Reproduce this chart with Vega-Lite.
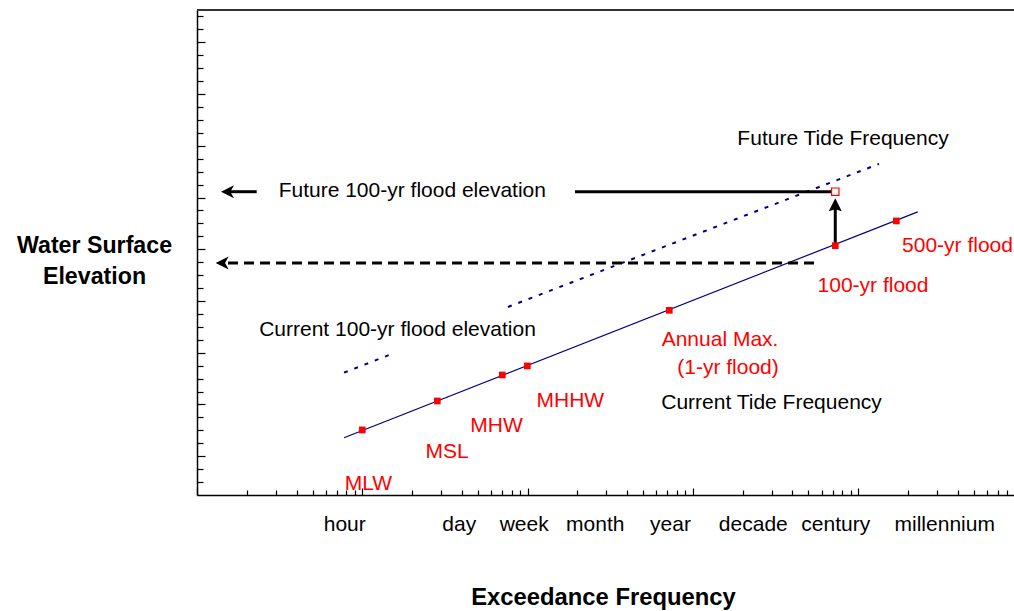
{
  "$schema": "https://vega.github.io/schema/vega-lite/v6.json",
  "width": 817,
  "height": 485,
  "autosize": {"type": "none"},
  "padding": {"left": 197, "top": 10, "right": 0, "bottom": 116},
  "background": "white",
  "config": {"font": "Liberation Sans", "view": {"stroke": null}},
  "datasets": {
    "tide": [{"x": 7.75, "y": 4.43}, {"x": 22909, "y": 21.89}],
    "future": [
      {"seg": "a", "x": 7.75, "y": 9.46}, {"seg": "a", "x": 15.06, "y": 10.9},
      {"seg": "b", "x": 76.1, "y": 14.54}, {"seg": "b", "x": 13360, "y": 25.6}
    ],
    "solid": [
      {"seg": "future", "x": 193.6, "y": 23.45}, {"seg": "future", "x": 7200, "y": 23.45},
      {"seg": "shaft", "x": 1.54, "y": 23.45}, {"seg": "shaft", "x": 2.297, "y": 23.45},
      {"seg": "up", "x": 7265, "y": 19.1}, {"seg": "up", "x": 7265, "y": 22.4}
    ],
    "dashed": [{"x": 1.54, "y": 17.94}, {"x": 5655, "y": 17.94}],
    "leftheads": [{"x": 1.397, "y": 23.45}, {"x": 1.297, "y": 17.94}],
    "upheads": [{"x": 7265, "y": 22.95}],
    "events": [
      {"name": "MLW", "x": 10.0, "y": 5.03},
      {"name": "MSL", "x": 28.43, "y": 7.27},
      {"name": "MHW", "x": 70.3, "y": 9.28},
      {"name": "MHHW", "x": 99.6, "y": 9.98},
      {"name": "Annual Max", "x": 719.5, "y": 14.28},
      {"name": "100-yr", "x": 7265, "y": 19.28},
      {"name": "500-yr", "x": 17005, "y": 21.19}
    ],
    "futurept": [{"x": 7265, "y": 23.45}],
    "border": [{"x": 1, "x2": 87600, "y": 37.5}],
    "labels": [
      {"text": "MLW", "kind": "event", "x": 10.89, "y": 0.387},
      {"text": "MSL", "kind": "event", "x": 32.63, "y": 2.838},
      {"text": "MHW", "kind": "event", "x": 64.85, "y": 4.849},
      {"text": "MHHW", "kind": "event", "x": 181.3, "y": 6.829},
      {"text": "Annual Max.", "kind": "event", "x": 1459, "y": 11.52},
      {"text": "(1-yr flood)", "kind": "event", "x": 1631, "y": 9.36},
      {"text": "100-yr flood", "kind": "event", "x": 12290, "y": 15.72},
      {"text": "500-yr flood", "kind": "event", "x": 39870, "y": 18.79},
      {"text": "Current Tide Frequency", "kind": "note", "x": 2989, "y": 6.65},
      {"text": "Current 100-yr flood elevation", "kind": "note", "x": 16.33, "y": 12.3},
      {"text": "Future 100-yr flood elevation", "kind": "note", "x": 20.07, "y": 23.02},
      {"text": "Future Tide Frequency", "kind": "note", "x": 8093, "y": 27.07}
    ]
  },
  "encoding": {
    "x": {
      "field": "x", "type": "quantitative",
      "scale": {"type": "log", "domain": [1, 87600], "nice": false, "zero": false},
      "axis": {
        "values": [1,2,3,4,5,6,7,8,9,10,20,30,40,50,60,70,80,90,100,200,300,400,500,600,700,800,900,1000,2000,3000,4000,5000,6000,7000,8000,9000,10000,20000,30000,40000,50000,60000,70000,80000,7.774,38.31,94.7,255,727,2304,7260,33140],
        "labelExpr": "datum.value == 7.774 ? 'hour' : datum.value == 38.31 ? 'day' : datum.value == 94.7 ? 'week' : datum.value == 255 ? 'month' : datum.value == 727 ? 'year' : datum.value == 2304 ? 'decade' : datum.value == 7260 ? 'century' : datum.value == 33140 ? 'millennium' : ''",
        "tickSize": {"condition": {"test": "abs(log(datum.value)/LN10 - round(log(datum.value)/LN10)) < 0.0001", "value": -7}, "value": -5},
        "tickOpacity": {"condition": {"test": "indexof([7.774,38.31,94.7,255,727,2304,7260,33140], datum.value) >= 0", "value": 0}, "value": 1},
        "tickColor": "black",
        "tickWidth": 1.2,
        "domainColor": "black",
        "domainWidth": 1.5,
        "labelFontSize": 21,
        "labelColor": "black",
        "labelBaseline": "alphabetic",
        "labelPadding": 40,
        "labelOverlap": false,
        "labelBound": false,
        "labelFlush": false,
        "grid": false,
        "title": "Exceedance Frequency",
        "titleFontSize": 23.8,
        "titleFontWeight": "bold",
        "titleColor": "black",
        "titleX": 406,
        "titleY": 109,
        "titleAlign": "center",
        "titleBaseline": "alphabetic"
      }
    },
    "y": {
      "field": "y", "type": "quantitative",
      "scale": {"domain": [0, 37.5], "nice": false, "zero": false},
      "axis": {
        "values": [1,2,3,4,5,6,7,8,9,10,11,12,13,14,15,16,17,18,19,20,21,22,23,24,25,26,27,28,29,30,31,32,33,34,35,36,37],
        "labels": false,
        "grid": false,
        "tickSize": {"condition": {"test": "(datum.value - 3) % 4 == 0", "value": -8}, "value": -6},
        "tickColor": "black",
        "tickWidth": 1.2,
        "domainColor": "black",
        "domainWidth": 1.5,
        "title": ["Water Surface", "Elevation"],
        "titleAngle": 0,
        "titleFontSize": 23.2,
        "titleFontWeight": "bold",
        "titleColor": "black",
        "titleX": -103,
        "titleY": 242.3,
        "titleAlign": "center",
        "titleBaseline": "alphabetic",
        "titleLineHeight": 31
      }
    }
  },
  "layer": [
    {
      "data": {"name": "tide"},
      "mark": {"type": "line", "color": "#000080", "strokeWidth": 1.2}
    },
    {
      "data": {"name": "future"},
      "mark": {"type": "line", "color": "#000080", "strokeWidth": 2, "strokeDash": [4, 7]},
      "encoding": {"detail": {"field": "seg"}}
    },
    {
      "data": {"name": "solid"},
      "mark": {"type": "line", "color": "black", "strokeWidth": 3},
      "encoding": {"detail": {"field": "seg"}}
    },
    {
      "data": {"name": "dashed"},
      "mark": {"type": "line", "color": "black", "strokeWidth": 3, "strokeDash": [10, 6]},
      "encoding": {}
    },
    {
      "data": {"name": "leftheads"},
      "mark": {"type": "point", "shape": "M0,0 L1,-0.5 L0.72,0 L1,0.5 Z", "filled": true, "color": "black", "opacity": 1, "size": 676, "strokeWidth": 0}
    },
    {
      "data": {"name": "upheads"},
      "mark": {"type": "point", "shape": "M0,0 L-0.5,1 L0,0.85 L0.5,1 Z", "filled": true, "color": "black", "opacity": 1, "size": 676, "strokeWidth": 0}
    },
    {
      "data": {"name": "events"},
      "mark": {"type": "point", "shape": "square", "filled": true, "color": "#ff0000", "opacity": 1, "size": 45}
    },
    {
      "data": {"name": "futurept"},
      "mark": {"type": "point", "shape": "square", "filled": true, "fill": "white", "stroke": "#ff0000", "strokeWidth": 1.2, "opacity": 1, "size": 55}
    },
    {
      "data": {"name": "labels"},
      "mark": {"type": "text", "fontSize": 21, "align": "center", "baseline": "alphabetic"},
      "encoding": {
        "text": {"field": "text"},
        "color": {"field": "kind", "type": "nominal", "scale": {"domain": ["event", "note"], "range": ["#ff0000", "#000000"]}, "legend": null}
      }
    },
    {
      "data": {"name": "border"},
      "mark": {"type": "rule", "color": "#333333", "strokeWidth": 2},
      "encoding": {"x2": {"field": "x2"}}
    }
  ]
}
